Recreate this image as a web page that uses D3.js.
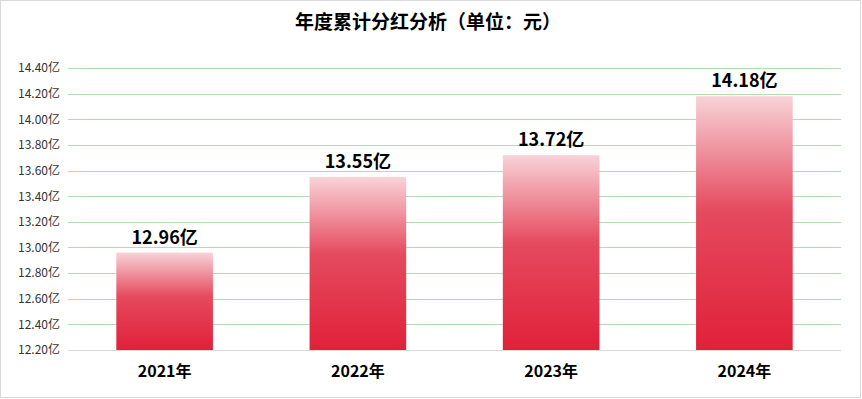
<!DOCTYPE html>
<html lang="zh">
<head>
<meta charset="UTF-8">
<title>年度累计分红分析</title>
<style>
  html, body { margin: 0; padding: 0; background: #fff; }
  svg { display: block; font-family: "Noto Sans CJK SC", "Microsoft YaHei", sans-serif; }
</style>
</head>
<body>
<svg id="chart"></svg>
<script src="https://d3js.org/d3.v7.min.js"></script>
<script>
// data
var years = ["2021年", "2022年", "2023年", "2024年"];
var values = [12.96, 13.55, 13.72, 14.18];
var yTicks = [12.2, 12.4, 12.6, 12.8, 13.0, 13.2, 13.4, 13.6, 13.8, 14.0, 14.2, 14.4];
var title = "年度累计分红分析（单位：元）";

var w = 862, h = 399;
var margin = { top: 68, right: 21, bottom: 49, left: 68 };

var svg = d3.select("#chart").attr("width", w).attr("height", h);

// outer frame
svg.append("rect")
    .attr("x", 0.5).attr("y", 0.5)
    .attr("width", w - 2).attr("height", h - 2)
    .attr("fill", "#fff")
    .attr("stroke", "#d9d9d9");

var x = d3.scaleBand()
    .domain(years)
    .range([margin.left, w - margin.right])
    .paddingInner(0.5)
    .paddingOuter(0.25);

var y = d3.scaleLinear()
    .domain([12.2, 14.4])
    .range([h - margin.bottom, margin.top]);

// gradient for bars
var defs = svg.append("defs");
var grad = defs.append("linearGradient")
    .attr("id", "barGrad")
    .attr("x1", 0).attr("y1", 0).attr("x2", 0).attr("y2", 1);
grad.append("stop").attr("offset", "0%").attr("stop-color", "#f8d3d8");
grad.append("stop").attr("offset", "45%").attr("stop-color", "#e54a5e");
grad.append("stop").attr("offset", "100%").attr("stop-color", "#e0213a");

// grid lines
svg.append("g")
    .selectAll("line")
    .data(yTicks.slice(1))
    .enter().append("line")
    .attr("x1", margin.left).attr("x2", w - margin.right)
    .attr("y1", function (d) { return Math.round(y(d)) + 0.5; })
    .attr("y2", function (d) { return Math.round(y(d)) + 0.5; })
    .attr("stroke", "#b3dcb3")
    .attr("stroke-width", 1);

// y axis labels
var yAxis = svg.append("g")
    .attr("transform", "translate(" + (margin.left - 8) + ",0)")
    .call(d3.axisLeft(y).tickValues(yTicks).tickSize(0).tickPadding(0)
        .tickFormat(function (d) { return d3.format(".2f")(d) + "亿"; }));
yAxis.select(".domain").remove();
yAxis.selectAll("text")
    .attr("font-size", 12)
    .attr("fill", "#333")
    .attr("font-family", "'Noto Sans CJK SC', sans-serif");

// bars
svg.append("g")
    .selectAll("rect")
    .data(values)
    .enter().append("rect")
    .attr("x", function (d, i) { return x(years[i]); })
    .attr("width", x.bandwidth())
    .attr("y", function (d) { return y(d); })
    .attr("height", function (d) { return y(12.2) - y(d); })
    .attr("fill", "url(#barGrad)");

// baseline
svg.append("line")
    .attr("x1", margin.left).attr("x2", w - margin.right)
    .attr("y1", Math.round(y(12.2)) + 0.5).attr("y2", Math.round(y(12.2)) + 0.5)
    .attr("stroke", "#d9d9d9");

// value labels
svg.append("g")
    .selectAll("text")
    .data(values)
    .enter().append("text")
    .attr("x", function (d, i) { return x(years[i]) + x.bandwidth() / 2; })
    .attr("y", function (d) { return y(d) - 9; })
    .attr("text-anchor", "middle")
    .attr("font-size", 18)
    .attr("font-weight", "bold")
    .attr("fill", "#000")
    .text(function (d) { return d3.format(".2f")(d) + "亿"; });

// x axis labels
var xAxis = svg.append("g")
    .attr("transform", "translate(0," + (h - margin.bottom) + ")")
    .call(d3.axisBottom(x).tickSize(0).tickPadding(16));
xAxis.select(".domain").remove();
xAxis.selectAll("text")
    .attr("font-size", 16)
    .attr("font-weight", "bold")
    .attr("fill", "#000")
    .attr("font-family", "'Noto Sans CJK SC', sans-serif");

// title
svg.append("text")
    .attr("x", w / 2 - 3)
    .attr("y", 29)
    .attr("text-anchor", "middle")
    .attr("font-size", 19)
    .attr("font-weight", "bold")
    .attr("fill", "#000")
    .text(title);
</script>
</body>
</html>
